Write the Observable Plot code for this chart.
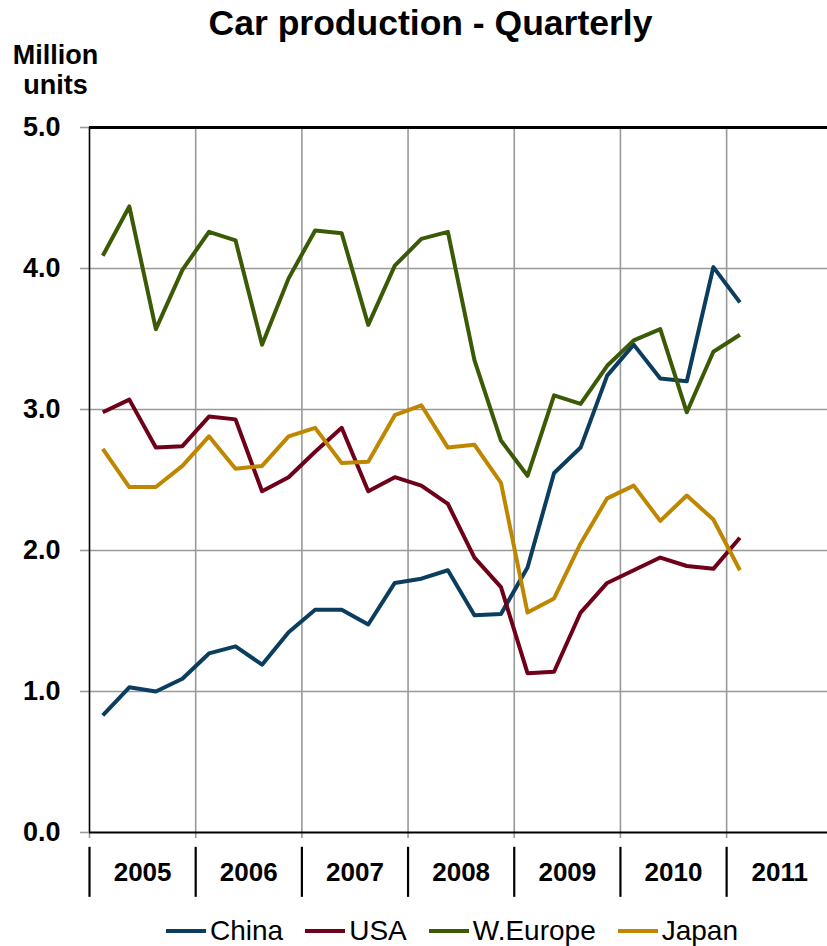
<!DOCTYPE html>
<html>
<head>
<meta charset="utf-8">
<script src="https://cdn.jsdelivr.net/npm/d3@7"></script>
<script src="https://cdn.jsdelivr.net/npm/@observablehq/plot@0.6"></script>
<style>
  html, body { margin: 0; padding: 0; background: #fff; }
  #wrap { position: relative; width: 827px; height: 946px; overflow: hidden; }
  #legend { position: absolute; left: 166px; top: 915px; }
  .lg-swatches { font-family: "Liberation Sans", Arial, sans-serif !important; font-size: 28px !important; color: #000 !important; margin: 0 !important; min-height: 0 !important; }
  .lg-swatch { margin-right: 22px !important; }
  .lg-swatch > svg { margin-right: 4px !important; }
</style>
</head>
<body>
<div id="wrap"><div id="chart"></div><div id="legend"></div></div>
<script>
// ---- data ----
const years = ["2005", "2006", "2007", "2008", "2009", "2010", "2011"];
const seriesNames = ["China", "USA", "W.Europe", "Japan"];
const seriesColors = ["#0B3D5E", "#6E0019", "#3A5A06", "#BF8700"];
const china   = [0.83, 1.03, 1.00, 1.09, 1.27, 1.32, 1.19, 1.42, 1.58, 1.58, 1.475, 1.77, 1.80, 1.86, 1.54, 1.55, 1.88, 2.55, 2.73, 3.24, 3.46, 3.22, 3.20, 4.01, 3.76];
const usa     = [2.98, 3.07, 2.73, 2.74, 2.95, 2.93, 2.42, 2.52, 2.70, 2.87, 2.42, 2.52, 2.46, 2.33, 1.95, 1.74, 1.13, 1.14, 1.56, 1.77, 1.86, 1.95, 1.89, 1.87, 2.09];
const weurope = [4.09, 4.44, 3.57, 3.99, 4.26, 4.20, 3.46, 3.93, 4.27, 4.25, 3.60, 4.02, 4.21, 4.26, 3.35, 2.78, 2.53, 3.10, 3.04, 3.31, 3.49, 3.57, 2.98, 3.41, 3.53];
const japan   = [2.72, 2.45, 2.45, 2.60, 2.81, 2.58, 2.60, 2.81, 2.87, 2.62, 2.63, 2.96, 3.03, 2.73, 2.75, 2.48, 1.56, 1.66, 2.05, 2.37, 2.46, 2.21, 2.39, 2.22, 1.86];
const yTicks = [0, 1, 2, 3, 4, 5];
const title = "Car production - Quarterly";
const yLabel = "Million\nunits";

// ---- table ----
const seriesValues = [china, usa, weurope, japan];
const rows = seriesNames.flatMap((name, k) =>
  seriesValues[k].map((v, i) => ({series: name, q: i + 0.5, value: v})));
const yearStarts = years.map((y, i) => i * 4);
const yearBoundaries = yearStarts.slice(1);

const font = "'Liberation Sans', Arial, sans-serif";

const chart = Plot.plot({
  width: 827,
  height: 946,
  marginTop: 127,
  marginBottom: 114,
  marginLeft: 89,
  marginRight: 0,
  x: {domain: [0, 27.8], axis: null, label: null},
  y: {domain: [0, 5], axis: null, label: null},
  color: {domain: seriesNames, range: seriesColors},
  style: {fontFamily: font, background: "white", color: "black", overflow: "visible"},
  marks: [
    Plot.gridY([1, 2, 3, 4], {stroke: "#999", strokeOpacity: 1, strokeWidth: 1.6}),
    Plot.ruleX(yearBoundaries, {y1: 0, y2: 5, stroke: "#999", strokeWidth: 1.6}),
    Plot.axisY(yTicks, {
      label: null, tickSize: 9, tickPadding: 20, stroke: "#999", strokeWidth: 1.6, fill: "black",
      tickFormat: d => d.toFixed(1), fontSize: 27, fontWeight: "bold"
    }),
    Plot.axisX(yearStarts, {label: null, tickSize: 6, tickFormat: () => "", stroke: "#999", strokeWidth: 1.6}),
    Plot.ruleX(yearStarts, {y1: -0.105, y2: -0.46, stroke: "black", strokeWidth: 2.2}),
    Plot.text(years, {x: (d, i) => i * 4 + 2, frameAnchor: "bottom", lineAnchor: "middle", dy: 40, text: d => d,
      fontSize: 26, fontWeight: "bold", fill: "black"}),
    Plot.ruleX([0], {y1: 0, y2: 5, stroke: "black", strokeWidth: 1.6}),
    Plot.ruleY([0], {stroke: "black", strokeWidth: 2}),
    Plot.ruleY([5], {stroke: "black", strokeWidth: 3}),
    Plot.line(rows, {x: "q", y: "value", z: "series", stroke: "series", strokeWidth: 4,
      strokeLinejoin: "round", strokeLinecap: "butt"}),
    Plot.text([title], {frameAnchor: "top", lineAnchor: "top", dx: -28, dy: -118, fontSize: 35.5, fontWeight: "bold", fill: "black"}),
    Plot.text([yLabel], {frameAnchor: "top-left", dx: -34, dy: -85, lineAnchor: "top", lineHeight: 1.12,
      textAnchor: "middle", fontSize: 27, fontWeight: "bold", fill: "black"})
  ]
});
document.getElementById("chart").appendChild(chart);

const legend = chart.legend("color", {swatchWidth: 40, swatchHeight: 4, className: "lg"});
document.getElementById("legend").appendChild(legend);
</script>
</body>
</html>
